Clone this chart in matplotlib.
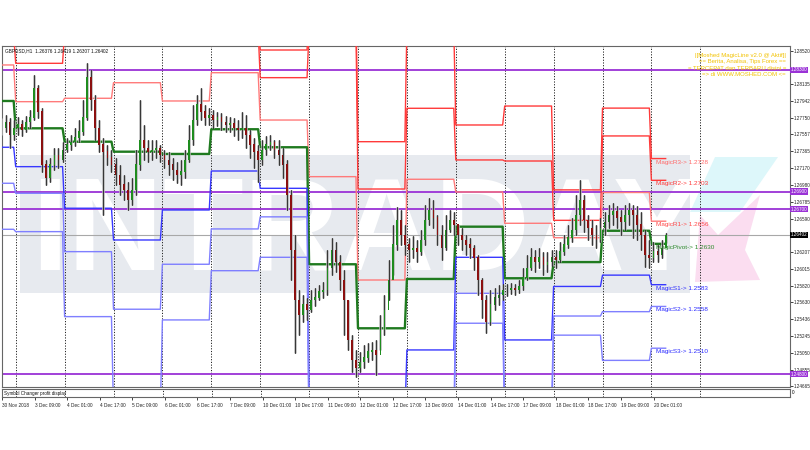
import matplotlib
matplotlib.use("Agg")
import matplotlib.pyplot as plt
import matplotlib.transforms as mtrans
from matplotlib.patches import Rectangle, Polygon
import numpy as np

# ---------------- data ----------------
symbol_header = "GBPUSD,H1  1.26376 1.26419 1.26307 1.26402"
bid_price = 1.26402

# candles: one per 2 trading hours, t = hours since 3 Dec 00:00
candle_t = list(range(-7, 320, 2))
candle_open0 = 1.2767
candle_close = [1.2763, 1.2770, 1.2755, 1.2763, 1.2767, 1.2761, 1.2770, 1.2775, 1.2809, 1.2782,
                1.2721, 1.2706, 1.2721, 1.2732, 1.2726, 1.2738, 1.2744, 1.2747, 1.2752, 1.2759,
                1.2775, 1.2821, 1.2795, 1.2763, 1.2744, 1.2736, 1.2729, 1.2721, 1.2709, 1.2698,
                1.2692, 1.2680, 1.2692, 1.2721, 1.2749, 1.2740, 1.2736, 1.2738, 1.2740, 1.2732,
                1.2726, 1.2721, 1.2715, 1.2709, 1.2713, 1.2726, 1.2749, 1.2772, 1.2790, 1.2782,
                1.2775, 1.2778, 1.2772, 1.2775, 1.2770, 1.2767, 1.2768, 1.2763, 1.2761, 1.2763,
                1.2755, 1.2744, 1.2736, 1.2726, 1.2738, 1.2744, 1.2747, 1.2738, 1.2732, 1.2721,
                1.2686, 1.2623, 1.2565, 1.2548, 1.2560, 1.2554, 1.2565, 1.2568, 1.2575, 1.2577,
                1.2602, 1.2623, 1.2609, 1.2588, 1.2565, 1.2519, 1.2496, 1.2487, 1.2494, 1.2499,
                1.2506, 1.2508, 1.2502, 1.2531, 1.2554, 1.2588, 1.2629, 1.2657, 1.2640, 1.2629,
                1.2623, 1.2625, 1.2621, 1.2634, 1.2657, 1.2669, 1.2660, 1.2640, 1.2625, 1.2646,
                1.2657, 1.2652, 1.2640, 1.2634, 1.2629, 1.2625, 1.2614, 1.2588, 1.2565, 1.2540,
                1.2560, 1.2568, 1.2571, 1.2577, 1.2577, 1.2579, 1.2577, 1.2581, 1.2591, 1.2602,
                1.2614, 1.2609, 1.2614, 1.2606, 1.2609, 1.2614, 1.2611, 1.2621, 1.2629, 1.2637,
                1.2646, 1.2663, 1.2680, 1.2657, 1.2648, 1.2640, 1.2634, 1.2648, 1.2655, 1.2663,
                1.2667, 1.2660, 1.2655, 1.2663, 1.2669, 1.2663, 1.2652, 1.2640, 1.2617, 1.2614,
                1.2621, 1.2617, 1.2625, 1.26402]
candle_high = [1.2775, 1.2778, 1.2775, 1.2772, 1.2776, 1.2772, 1.2777, 1.2784, 1.2824, 1.2813,
               1.2786, 1.2726, 1.2729, 1.2740, 1.2740, 1.2747, 1.2752, 1.2755, 1.2763, 1.2772,
               1.2795, 1.2838, 1.2830, 1.2801, 1.2772, 1.2752, 1.2744, 1.2738, 1.2729, 1.2721,
               1.2709, 1.2701, 1.2706, 1.2738, 1.2795, 1.2767, 1.2749, 1.2749, 1.2749, 1.2744,
               1.2738, 1.2736, 1.2729, 1.2724, 1.2726, 1.2738, 1.2767, 1.2790, 1.2801, 1.2809,
               1.2790, 1.2786, 1.2784, 1.2782, 1.2780, 1.2777, 1.2776, 1.2775, 1.2772, 1.2782,
               1.2778, 1.2761, 1.2752, 1.2744, 1.2749, 1.2754, 1.2755, 1.2749, 1.2749, 1.2740,
               1.2726, 1.2692, 1.2640, 1.2577, 1.2571, 1.2568, 1.2577, 1.2579, 1.2583, 1.2586,
               1.2623, 1.2637, 1.2632, 1.2617, 1.2600, 1.2565, 1.2525, 1.2508, 1.2506, 1.2514,
               1.2516, 1.2517, 1.2519, 1.2548, 1.2571, 1.2611, 1.2652, 1.2672, 1.2669, 1.2652,
               1.2637, 1.2639, 1.2634, 1.2646, 1.2675, 1.2683, 1.2680, 1.2663, 1.2652, 1.2663,
               1.2669, 1.2667, 1.2652, 1.2648, 1.2640, 1.2637, 1.2629, 1.2617, 1.2591, 1.2571,
               1.2577, 1.2579, 1.2583, 1.2584, 1.2584, 1.2585, 1.2584, 1.2588, 1.2602, 1.2617,
               1.2625, 1.2623, 1.2625, 1.2621, 1.2621, 1.2623, 1.2623, 1.2632, 1.2640, 1.2652,
               1.2660, 1.2686, 1.2703, 1.2686, 1.2663, 1.2657, 1.2652, 1.2660, 1.2667, 1.2675,
               1.2677, 1.2673, 1.2669, 1.2675, 1.2677, 1.2675, 1.2673, 1.2667, 1.2646, 1.2634,
               1.2632, 1.2629, 1.2634, 1.26419]
candle_low = [1.2755, 1.2759, 1.2740, 1.2749, 1.2755, 1.2754, 1.2759, 1.2763, 1.2772, 1.2775,
              1.2713, 1.2698, 1.2701, 1.2715, 1.2717, 1.2724, 1.2736, 1.2738, 1.2742, 1.2747,
              1.2755, 1.2772, 1.2784, 1.2749, 1.2736, 1.2663, 1.2721, 1.2713, 1.2698, 1.2686,
              1.2680, 1.2669, 1.2675, 1.2686, 1.2715, 1.2726, 1.2724, 1.2726, 1.2729, 1.2724,
              1.2717, 1.2709, 1.2703, 1.2700, 1.2698, 1.2706, 1.2724, 1.2744, 1.2767, 1.2772,
              1.2767, 1.2767, 1.2763, 1.2765, 1.2761, 1.2759, 1.2759, 1.2754, 1.2749, 1.2752,
              1.2740, 1.2729, 1.2717, 1.2701, 1.2721, 1.2732, 1.2738, 1.2729, 1.2721, 1.2706,
              1.2669, 1.2588, 1.2504, 1.2525, 1.2540, 1.2542, 1.2552, 1.2558, 1.2565, 1.2568,
              1.2571, 1.2594, 1.2598, 1.2577, 1.2525, 1.2508, 1.2483, 1.2477, 1.2483, 1.2487,
              1.2494, 1.2496, 1.2479, 1.2508, 1.2525, 1.2565, 1.2594, 1.2623, 1.2629, 1.2617,
              1.2609, 1.2614, 1.2609, 1.2617, 1.2629, 1.2652, 1.2648, 1.2629, 1.2611, 1.2623,
              1.2644, 1.2640, 1.2629, 1.2623, 1.2617, 1.2614, 1.2600, 1.2571, 1.2545, 1.2527,
              1.2537, 1.2554, 1.2560, 1.2565, 1.2570, 1.2572, 1.2571, 1.2573, 1.2577, 1.2588,
              1.2600, 1.2598, 1.2602, 1.2594, 1.2598, 1.2604, 1.2602, 1.2609, 1.2617, 1.2625,
              1.2632, 1.2640, 1.2652, 1.2644, 1.2634, 1.2629, 1.2625, 1.2632, 1.2640, 1.2648,
              1.2652, 1.2648, 1.2640, 1.2646, 1.2652, 1.2637, 1.2634, 1.2623, 1.2603, 1.2602,
              1.2609, 1.2609, 1.2614, 1.26307]

# daily MagicLine levels (30 Nov .. 20 Dec)
day_start = [-7, 0, 24, 48, 72, 96, 120, 144, 168, 192, 216, 240, 264, 288, 312]
R3 = [1.2890, 1.2868, 1.2900, 1.2900, 1.2880, 1.2880, 1.28528, 1.2900, 1.27474, 1.2880, 1.27666, 1.27884, 1.2692, 1.2786, 1.2728]
R2 = [1.2870, 1.28375, 1.28738, 1.2880, 1.28586, 1.2875, 1.28210, 1.2877, 1.26930, 1.27858, 1.27264, 1.27252, 1.2657, 1.2754, 1.2703]
R1 = [1.28356, 1.27934, 1.27973, 1.28152, 1.27942, 1.28267, 1.27723, 1.27072, 1.25884, 1.27042, 1.26896, 1.26536, 1.2637, 1.2689, 1.2656]
PV = [1.27942, 1.27628, 1.27474, 1.27359, 1.27333, 1.27617, 1.27410, 1.26065, 1.25329, 1.25896, 1.26497, 1.25904, 1.2609, 1.2645, 1.2630]
S1 = [1.27410, 1.27187, 1.26709, 1.26344, 1.26689, 1.27137, 1.26938, 1.2441, 1.2430, 1.25080, 1.26145, 1.25195, 1.2581, 1.2594, 1.2583]
S2 = [1.26996, 1.26881, 1.26210, 1.25548, 1.26065, 1.26471, 1.26610, 1.2420, 1.2410, 1.2420, 1.25731, 1.2440, 1.2547, 1.2552, 1.2558]
S3 = [1.26467, 1.26440, 1.25463, 1.2440, 1.25425, 1.25991, 1.26145, 1.2400, 1.2390, 1.2400, 1.25387, 1.2420, 1.2525, 1.2496, 1.2510]

level_names = ["MagicR3", "MagicR2", "MagicR1", "MagicPivot", "MagicS1", "MagicS2", "MagicS3"]
level_label_vals = ["1.2728", "1.2703", "1.2656", "1.2630", "1.2583", "1.2558", "1.2510"]

hlines_purple = [1.2830, 1.2690, 1.2670, 1.2480]
hline_labels = ["1.28300", "1.26900", "1.26700", "1.24800"]

ytick_vals = [1.28520, 1.28135, 1.27942, 1.27750, 1.27557, 1.27365, 1.27170, 1.26980, 1.26785,
              1.26590, 1.26207, 1.26015, 1.25820, 1.25630, 1.25436, 1.25245, 1.25050, 1.24855, 1.24665]

xtick_t = list(range(-7, 320, 16))
xtick_labels = ["30 Nov 2018", "3 Dec 09:00", "4 Dec 01:00", "4 Dec 17:00", "5 Dec 09:00", "6 Dec 01:00",
                "6 Dec 17:00", "7 Dec 09:00", "10 Dec 01:00", "10 Dec 17:00", "11 Dec 09:00", "12 Dec 01:00",
                "12 Dec 17:00", "13 Dec 09:00", "14 Dec 01:00", "14 Dec 17:00", "17 Dec 09:00", "18 Dec 01:00",
                "18 Dec 17:00", "19 Dec 09:00", "20 Dec 01:00"]
separator_t = list(range(0, 337, 24))

info_lines = ["|[Moshed MagicLine v2.0 @ Aktif]|", "== Berita, Analisa, Tips Forex ==",
              "= TERCEPAT dan TERBARU disini =", "=> di WWW.MOSHED.COM <="]

# ---------------- layout ----------------
W, H = 810, 450
fig = plt.figure(figsize=(W / 100, H / 100), dpi=100)
plt.rcParams['font.family'] = ['Liberation Sans', 'DejaVu Sans']
PXH = 2.0375
X0 = 15.7


def tx(px):
    return (px - X0) / PXH


def add_ax(l, t, r, b):
    return fig.add_axes([l / W, 1 - b / H, (r - l) / W, (b - t) / H])


def fx(px):
    return px / W


def fy(py):
    return 1 - py / H


ax = add_ax(2, 46, 790, 387)
ax.set_xlim(tx(2), tx(790))
ax.set_ylim(1.24654, 1.28574)
sub = add_ax(2, 389, 790, 397)
sub.set_xlim(tx(2), tx(790))
sub.set_ylim(0, 1)

for a in (ax, sub):
    for s in a.spines.values():
        s.set_color("#666666")
        s.set_linewidth(0.8)

# watermark band
ax.add_patch(Rectangle((fx(20), fy(293)), fx(690) - fx(20), fy(155) - fy(293), transform=fig.transFigure,
                       facecolor="#E7EAEF", edgecolor="none", zorder=0))
ax.text(fx(366), fy(269), "INTRADAY", transform=fig.transFigure, fontsize=95, fontweight="bold",
        family="Liberation Sans", color="white", ha="center", va="baseline", zorder=0.5)
ax.add_patch(Polygon([(fx(715), fy(157)), (fx(778), fy(157)), (fx(740), fy(212)), (fx(690), fy(212))],
                     closed=True, transform=fig.transFigure, facecolor="#DDF7FA", edgecolor="none", zorder=0.4))
ax.add_patch(Polygon([(fx(760), fy(195)), (fx(745), fy(250)), (fx(760), fy(280)), (fx(695), fy(282)),
                      (fx(700), fy(215)), (fx(718), fy(235))],
                     closed=True, transform=fig.transFigure, facecolor="#FBDDF0", edgecolor="none", zorder=0.4))

# separators
for s in separator_t:
    for a in (ax, sub):
        a.axvline(s, color="#222222", lw=0.7, linestyle=(0, (1.2, 1.6)), zorder=1)

# purple levels and bid line
for v in hlines_purple:
    ax.axhline(v, color="#9A32D6", lw=1.3, zorder=2)
ax.axhline(bid_price, color="#A8A8A8", lw=0.8, zorder=2)

# magic levels per bar
bars = np.arange(-7, 320)
didx = np.searchsorted(day_start, bars, side="right") - 1
level_sets = [R3, R2, R1, PV, S1, S2, S3]
level_colors = ["#FF3A3A", "#FF3A3A", "#FF7A7A", "#1F7A1F", "#3838FF", "#7F7FFF", "#7F7FFF"]
level_lw = [1.0, 1.0, 1.0, 1.7, 1.0, 1.0, 1.0]
for vals, c, lw in zip(level_sets, level_colors, level_lw):
    ax.plot(bars, np.asarray(vals)[didx], color=c, lw=lw, zorder=3)

# candles
opens = [candle_open0] + candle_close[:-1]
for t, o, hi, lo, c in zip(candle_t, opens, candle_high, candle_low, candle_close):
    ax.plot([t, t], [lo, hi], color="#B4B4B4", lw=1.8, zorder=3.5, solid_capstyle="butt")
    ax.plot([t, t], [lo, hi], color="#111111", lw=0.55, zorder=4)
    col = "#1E8C1E" if c >= o else "#8B1010"
    ax.bar(t, abs(c - o) + 0.00004, bottom=min(o, c), width=0.85, color=col, zorder=4.5, linewidth=0)

# magic level labels
lab_colors = ["#FF6A6A", "#FF3A3A", "#FF4A4A", "#2E8B2E", "#2A2AFF", "#2A2AFF", "#2A2AFF"]
for name, val, c in zip(level_names, level_label_vals, lab_colors):
    ax.text(tx(656), float(val) - 0.00012, f"{name}-> {val}", color=c, fontsize=4.6, va="top", ha="left",
            zorder=6)

# right axis
ax.yaxis.tick_right()
ax.set_yticks(ytick_vals)
ax.set_yticklabels([f"{v:.5f}" for v in ytick_vals])
ax.tick_params(axis="y", direction="out", length=2, width=0.6, labelsize=3.3, pad=0.8, colors="#222222")
ax.set_xticks([])
btf = mtrans.blended_transform_factory(fig.transFigure, ax.transData)
for v, lab in zip(hlines_purple, hline_labels):
    ax.text(fx(791), v, lab, transform=btf, fontsize=3.3, color="white", va="center", ha="left",
            bbox=dict(boxstyle="square,pad=0.15", fc="#9A32D6", ec="none"), clip_on=False, zorder=7)
ax.text(fx(791), bid_price, f"{bid_price:.5f}", transform=btf, fontsize=3.3, color="white", va="center",
        ha="left", bbox=dict(boxstyle="square,pad=0.15", fc="#000000", ec="none"), clip_on=False, zorder=7)

# header texts
ax.text(fx(5), fy(50.5), symbol_header, transform=fig.transFigure, fontsize=3.4, color="#111111",
        va="center", ha="left", zorder=7)
for i, line in enumerate(info_lines):
    ax.text(fx(786), fy(55.5 + 6.3 * i), line, transform=fig.transFigure, fontsize=4.3, color="#F2C200",
            va="center", ha="right", zorder=7)

# sub panel
sub.set_yticks([])
sub.set_xticks(xtick_t)
sub.set_xticklabels(xtick_labels)
sub.tick_params(axis="x", direction="out", length=2.5, width=0.6, labelsize=3.4, pad=1.5, colors="#222222")
for lab in sub.get_xticklabels():
    lab.set_ha("left")
sub.text(0.002, 0.5, "Symbol Changer profit display", transform=sub.transAxes, fontsize=3.3, va="center",
         ha="left", color="#111111")
sub.text(fx(792), fy(393), "0", transform=fig.transFigure, fontsize=3.4, va="center", ha="left")

fig.savefig("out.png", dpi=100)
